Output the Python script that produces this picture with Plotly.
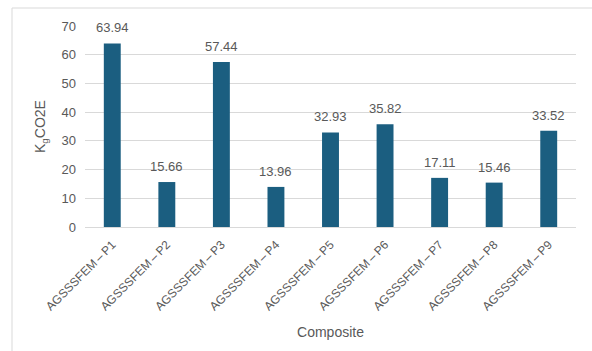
import plotly.graph_objects as go

categories = ["AGSSSFEM\u2009–\u2009P1", "AGSSSFEM\u2009–\u2009P2", "AGSSSFEM\u2009–\u2009P3",
              "AGSSSFEM\u2009–\u2009P4", "AGSSSFEM\u2009–\u2009P5", "AGSSSFEM\u2009–\u2009P6",
              "AGSSSFEM\u2009–\u2009P7", "AGSSSFEM\u2009–\u2009P8", "AGSSSFEM\u2009–\u2009P9"]
values = [63.94, 15.66, 57.44, 13.96, 32.93, 35.82, 17.11, 15.46, 33.52]
y_ticks = [0, 10, 20, 30, 40, 50, 60, 70]

W, H = 592, 351
ML, MR, MT, MB = 85, 16, 26, 124
pw = W - ML - MR
ph = H - MT - MB

def px_x(p):
    return (p - ML) / pw

def px_y(p):
    return (H - MB - p) / ph

font_family = "Liberation Sans, Arial, sans-serif"
gray = "#595959"

fig = go.Figure()
fig.add_trace(go.Bar(
    x=categories, y=values,
    marker=dict(color="#1B5E80", line=dict(width=0)),
    hoverinfo="x+y",
))

for c, v in zip(categories, values):
    fig.add_annotation(x=c, y=v, text=f"{v:.2f}", showarrow=False,
                       yanchor="bottom", yshift=6,
                       font=dict(family=font_family, size=13, color=gray))

fig.add_shape(type="rect", xref="paper", yref="paper",
              x0=px_x(12), x1=px_x(620), y0=px_y(380), y1=px_y(8),
              line=dict(color="#D9D9D9", width=1), fillcolor="rgba(0,0,0,0)",
              layer="below")

fig.update_layout(
    width=W, height=H,
    margin=dict(l=ML, r=MR, t=MT, b=MB, pad=0),
    paper_bgcolor="white", plot_bgcolor="white",
    bargap=0.69,
    showlegend=False,
    font=dict(family=font_family, size=13, color=gray),
    xaxis=dict(
        title=dict(text="Composite", font=dict(size=14, color=gray), standoff=14),
        tickangle=-45,
        tickfont=dict(size=12, color=gray),
        showgrid=False, showline=True, linecolor="#D9D9D9", linewidth=1,
        ticks="", ticklabelstandoff=5,
    ),
    yaxis=dict(
        title=dict(text="K<sub>g</sub>CO2E", font=dict(size=14, color=gray), standoff=12),
        range=[0, 70], tickvals=y_ticks,
        tickfont=dict(size=13, color=gray),
        showgrid=True, gridcolor="#D9D9D9", gridwidth=1,
        zeroline=False, showline=False, ticks="",
        ticklabelstandoff=8,
    ),
)

fig.write_html("out.html")
